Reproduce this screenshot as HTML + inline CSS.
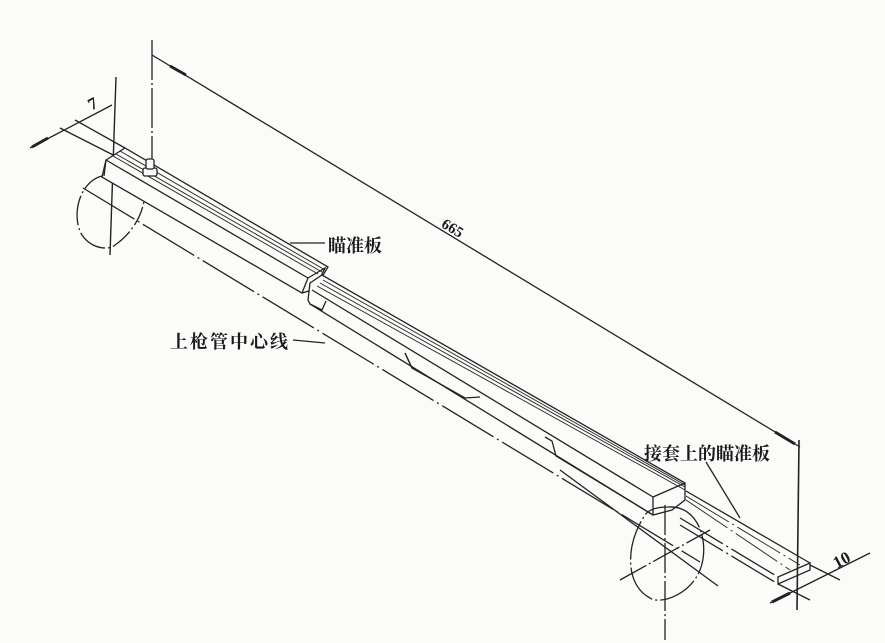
<!DOCTYPE html>
<html><head><meta charset="utf-8"><style>
html,body{margin:0;padding:0;background:#fbfbf9;}
svg{display:block}
text{font-family:"Liberation Serif","Noto Serif CJK SC",serif;fill:#1a1a1a;font-weight:bold}
</style></head><body>
<svg width="885" height="643" viewBox="0 0 885 643" xmlns="http://www.w3.org/2000/svg">
<g stroke="#222" fill="none" stroke-width="1.3">
<!-- dimension 665 -->
<line x1="152" y1="40" x2="152" y2="195" stroke-dasharray="40 3 2 3"/>
<line x1="152" y1="55" x2="800" y2="447"/>
<line x1="170" y1="66" x2="186" y2="75" stroke-width="3"/>
<line x1="775" y1="432" x2="795" y2="444" stroke-width="3"/>
<line x1="799" y1="440" x2="797" y2="610" stroke-width="1.6"/>
<!-- dim 7 -->
<line x1="116" y1="77" x2="110" y2="255" stroke-width="1.4"/>
<line x1="30" y1="148" x2="112" y2="105"/>
<line x1="32" y1="147" x2="48" y2="138" stroke-width="3"/>
<line x1="60" y1="128" x2="125" y2="161"/>
<line x1="75" y1="120" x2="125" y2="148"/>
<!-- dim 10 -->
<line x1="770" y1="603" x2="870" y2="553"/>
<line x1="772" y1="602" x2="790" y2="593" stroke-width="3"/>
<line x1="810" y1="565" x2="840" y2="580"/>
<line x1="778" y1="584" x2="810" y2="600"/>
<!-- left ellipse -->
<path d="M110 175 C80 175 70 215 82 235 C92 250 110 250 115 245" stroke-dasharray="30 3 2 3"/>
<path d="M115 245 C130 235 145 215 145 190" stroke-dasharray="20 3 2 3"/>
<!-- centerline -->
<line x1="83" y1="188" x2="700" y2="562" stroke-dasharray="60 4 2 4"/>
<line x1="560" y1="470" x2="718" y2="586"/>
<!-- left bar -->
<path d="M106 160 L125 148 L328 267 L320 280 L312 290 L302 293 L102 177 Z" fill="#fbfbf9"/>
<line x1="106" y1="160" x2="308" y2="278"/>
<line x1="106" y1="160" x2="104" y2="176"/>
<line x1="113" y1="156" x2="318" y2="274" stroke-width="0.9"/>
<line x1="116" y1="154" x2="322" y2="272" stroke-width="0.9"/>
<line x1="120" y1="151" x2="325" y2="270" stroke-width="0.9"/>
<path d="M308 278 L302 293 M308 278 L325 268 L318 282 L311 290"/>
<!-- nut -->
<rect x="143" y="168" width="14" height="8" rx="2" fill="#fbfbf9"/>
<rect x="146" y="159" width="8" height="10" rx="2" fill="#fbfbf9"/>
<!-- thin plate -->
<line x1="686" y1="491" x2="810" y2="563"/>
<line x1="686" y1="496" x2="800" y2="565" stroke-width="0.9" stroke-dasharray="50 4 2 4"/>
<line x1="686" y1="500" x2="790" y2="570" stroke-width="0.9" stroke-dasharray="50 4 2 4"/>
<line x1="680" y1="518" x2="778" y2="577" stroke-dasharray="50 4 2 4"/>
<line x1="680" y1="525" x2="778" y2="584" stroke-dasharray="50 4 2 4"/>
<path d="M778 577 L810 563 L810 570 L778 584 Z"/>
<!-- right bar -->
<path d="M310 283 L322 275 L685 483 L685 500 L672 510 L653 515 L310 304 L308 300 Z" fill="#fbfbf9"/>
<line x1="312" y1="290" x2="653" y2="497"/>
<line x1="653" y1="497" x2="685" y2="483"/>
<line x1="653" y1="497" x2="653" y2="515"/>
<line x1="317" y1="286" x2="685" y2="490" stroke-width="0.9"/>
<line x1="320" y1="283" x2="685" y2="487" stroke-width="0.9"/>
<line x1="323" y1="280" x2="685" y2="485" stroke-width="0.9"/>
<path d="M310 304 L322 310 L326 301 M405 353 L412 368 L465 398 L480 397 M545 437 L552 441 L556 456 L653 515"/>
<path d="M412 368 L405 353"/>
<!-- right ellipse -->
<path d="M668 507 C700 505 710 545 700 570 C690 595 660 605 650 598 C625 585 625 545 645 515 C650 508 660 507 668 507" stroke-dasharray="40 3 2 3"/>
<line x1="665" y1="505" x2="665" y2="640" stroke-dasharray="30 3 2 3"/>
<line x1="620" y1="580" x2="710" y2="530" stroke-dasharray="30 3 2 3"/>
<!-- leaders -->
<line x1="290" y1="243" x2="325" y2="243"/>
<line x1="293" y1="340" x2="325" y2="343"/>
<line x1="706" y1="462" x2="740" y2="518"/>
</g>
<text x="328" y="252" font-size="18">瞄准板</text>
<text x="170" y="348" font-size="18" letter-spacing="2">上枪管中心线</text>
<text x="644" y="460" font-size="18">接套上的瞄准板</text>
<text x="440" y="232" font-size="15" transform="rotate(31 450 230)">665</text>
<text x="88" y="108" font-size="17" transform="rotate(-28 95 102)">7</text>
<text x="832" y="566" font-size="17" transform="rotate(-28 840 558)">10</text>
</svg>
</body></html>
